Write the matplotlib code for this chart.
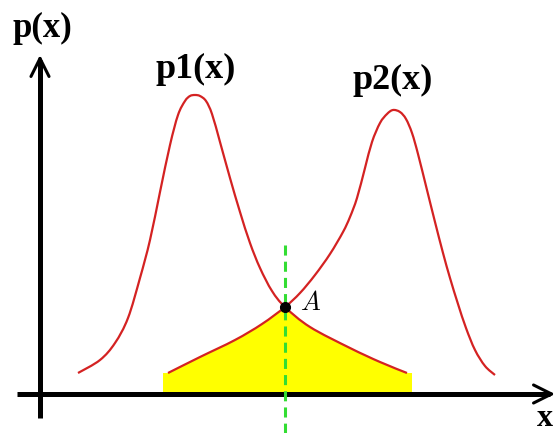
import numpy as np
import matplotlib.pyplot as plt
from matplotlib.path import Path
from matplotlib.patches import PathPatch

plt.rcParams['mathtext.fontset'] = 'cm'

# 两个类条件概率密度曲线上的采样点
x1 = [0.38, 0.60, 0.75, 0.88, 1.00, 1.10, 1.20, 1.30, 1.38, 1.45, 1.50, 1.55, 1.60,
      1.66, 1.72, 1.80, 1.90, 2.00, 2.10, 2.20, 2.32, 2.45, 2.70, 3.10, 3.40, 3.67]
p1 = [0.21, 0.34, 0.51, 0.76, 1.16, 1.54, 2.02, 2.49, 2.79, 2.93, 2.98, 2.99, 2.98,
      2.93, 2.80, 2.52, 2.16, 1.82, 1.51, 1.26, 1.03, 0.87, 0.67, 0.46, 0.32, 0.21]

x2 = [1.28, 1.60, 1.95, 2.22, 2.45, 2.60, 2.75, 2.90, 3.03, 3.10, 3.17, 3.25, 3.32, 3.40, 3.47,
      3.53, 3.60, 3.66, 3.72, 3.78, 3.87, 3.95, 4.03, 4.10, 4.18, 4.26, 4.35, 4.45, 4.55]
p2 = [0.21, 0.37, 0.54, 0.70, 0.87, 1.01, 1.19, 1.40, 1.62, 1.77, 1.96, 2.26, 2.52, 2.71, 2.80,
      2.84, 2.82, 2.75, 2.61, 2.40, 2.04, 1.72, 1.41, 1.16, 0.90, 0.66, 0.44, 0.28, 0.19]

# 交点 A 和错误区域边界
xA, pA = 2.45, 0.87
err_left, err_right, err_edge = 1.23, 3.72, 0.21

x1, p1, x2, p2 = map(np.array, (x1, p1, x2, p2))


def bezier_segments(xs, ys):
    # Catmull-Rom 转三次贝塞尔，让折线画得平滑
    pts = np.column_stack([xs, ys])
    n = len(pts)
    verts, codes = [], []
    for i in range(n - 1):
        a = pts[max(i - 1, 0)]
        b = pts[i]
        c = pts[i + 1]
        d = pts[min(i + 2, n - 1)]
        verts += [b + (c - a) / 6, c - (d - b) / 6, c]
        codes += [Path.CURVE4] * 3
    return verts, codes


def smooth_path(xs, ys):
    v, c = bezier_segments(xs, ys)
    return Path([(xs[0], ys[0])] + v, [Path.MOVETO] + c)


fig = plt.figure(figsize=(5.57, 4.33), dpi=100)
ax = fig.add_axes([0, 0, 1, 1])
ax.set_xlim(-0.40, 5.17)
ax.set_ylim(-0.39, 3.94)
ax.axis('off')

# 黄色区域：两条曲线中较低的那条
left = x2 <= xA
right = x1 >= xA
vl, cl = bezier_segments(x2[left], p2[left])
vr, cr = bezier_segments(x1[right], p1[right])
verts = ([(err_left, 0), (err_left, err_edge), (x2[0], p2[0])] + vl + vr
         + [(err_right, err_edge), (err_right, 0), (err_left, 0)])
codes = ([Path.MOVETO, Path.LINETO, Path.LINETO] + cl + cr
         + [Path.LINETO, Path.LINETO, Path.CLOSEPOLY])
ax.add_patch(PathPatch(Path(verts, codes), facecolor='#ffff00', lw=0, zorder=1))

for xs, ys in ((x1, p1), (x2, p2)):
    ax.add_patch(PathPatch(smooth_path(xs, ys), facecolor='none',
                           edgecolor='#d42222', lw=1.6, zorder=3))

# 坐标轴
ax.plot([-0.23, 5.10], [0, 0], color='black', lw=3.6, solid_capstyle='butt', zorder=4)
ax.plot([0, 0], [-0.24, 3.34], color='black', lw=3.6, solid_capstyle='butt', zorder=4)
head = dict(arrowstyle='->, head_length=1.3, head_width=0.65', color='black',
            lw=2.2, mutation_scale=10, shrinkA=0, shrinkB=0)
ax.annotate('', xy=(5.15, 0), xytext=(4.95, 0), arrowprops=head, zorder=5)
ax.annotate('', xy=(0, 3.39), xytext=(0, 3.19), arrowprops=head, zorder=5)

# 判决边界
ax.plot([xA, xA], [1.49, -0.39], color='#33dd33', lw=2.2,
        linestyle=(0, (3.3, 2)), zorder=5)
ax.plot([xA], [pA], 'o', color='black', ms=7, zorder=6)

serif = 'Liberation Serif'
ax.text(0.02, 3.66, 'p(x)', fontsize=25, fontweight='bold', family=serif,
        ha='center', va='center')
ax.text(1.56, 3.25, 'p1(x)', fontsize=26, fontweight='bold', family=serif,
        ha='center', va='center')
ax.text(3.53, 3.14, 'p2(x)', fontsize=26, fontweight='bold', family=serif,
        ha='center', va='center')
ax.text(5.05, -0.385, 'x', fontsize=23, fontweight='bold', family=serif,
        ha='center', va='bottom')
ax.text(2.71, 0.91, r'$A$', fontsize=19, ha='center', va='center')

fig.savefig('out.png', dpi=100)
